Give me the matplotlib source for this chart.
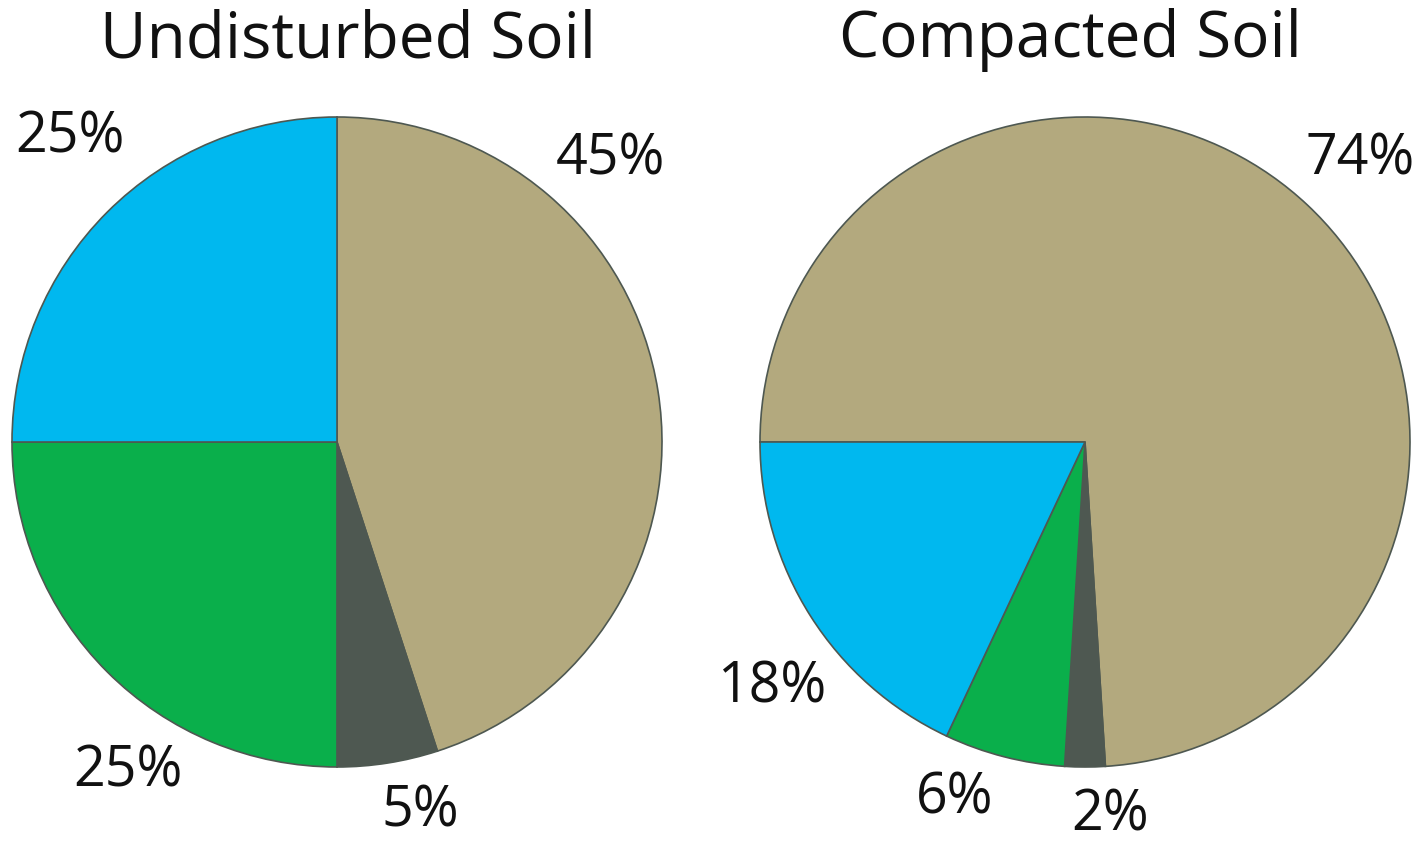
import matplotlib.pyplot as plt

# soil composition (percent of volume)
components = ['Soil particles', 'Organic matter', 'Water', 'Air']
undisturbed = [45, 5, 25, 25]
compacted = [74, 2, 6, 18]
colors = ['#b3a97e', '#4e5851', '#0aaf4b', '#00b8ef']

W, H = 1421, 843
fig = plt.figure(figsize=(W / 100, H / 100), dpi=100)
plt.rcParams['font.family'] = ['Open Sans', 'DejaVu Sans']

R = 325  # pie radius, px


def pie_axes(cx, cy):
    # axes box that holds exactly one pie of radius R centred at (cx, cy)
    ax = fig.add_axes([(cx - R) / W, (H - cy - R) / H, 2 * R / W, 2 * R / H])
    ax.axis('off')
    return ax


def fix_limits(ax):
    # pie() pads the limits to 1.25, undo that so the pie fills the box
    ax.set_xlim(-1, 1)
    ax.set_ylim(-1, 1)
    ax.set_aspect('equal')


ax1 = pie_axes(337, 442)
ax1.pie(undisturbed, colors=colors, startangle=90, counterclock=False,
        radius=1, wedgeprops=dict(edgecolor='#4e5851', linewidth=1.2))
fix_limits(ax1)
left_pos = [(0.84, 0.868), (0.255, -1.138), (-0.643, -1.015), (-0.822, 0.935)]
for v, (x, y) in zip(undisturbed, left_pos):
    ax1.text(x, y, f'{v}%', ha='center', va='center', fontsize=40,
             color='#111111', clip_on=False)

ax2 = pie_axes(1085, 442)
ax2.pie(compacted, colors=colors, startangle=180, counterclock=False,
        radius=1, wedgeprops=dict(edgecolor='#4e5851', linewidth=1.2))
fix_limits(ax2)
right_pos = [(0.846, 0.868), (0.077, -1.15), (-0.40, -1.10), (-0.963, -0.757)]
for v, (x, y) in zip(compacted, right_pos):
    ax2.text(x, y, f'{v}%', ha='center', va='center', fontsize=40,
             color='#111111', clip_on=False)

fig.text(348 / W, 1 - 40 / H, 'Undisturbed Soil', ha='center', va='center',
         fontsize=46, color='#111111')
fig.text(1070 / W, 1 - 40 / H, 'Compacted Soil', ha='center', va='center',
         fontsize=46, color='#111111')

plt.savefig('out.png', dpi=100, facecolor='white')
